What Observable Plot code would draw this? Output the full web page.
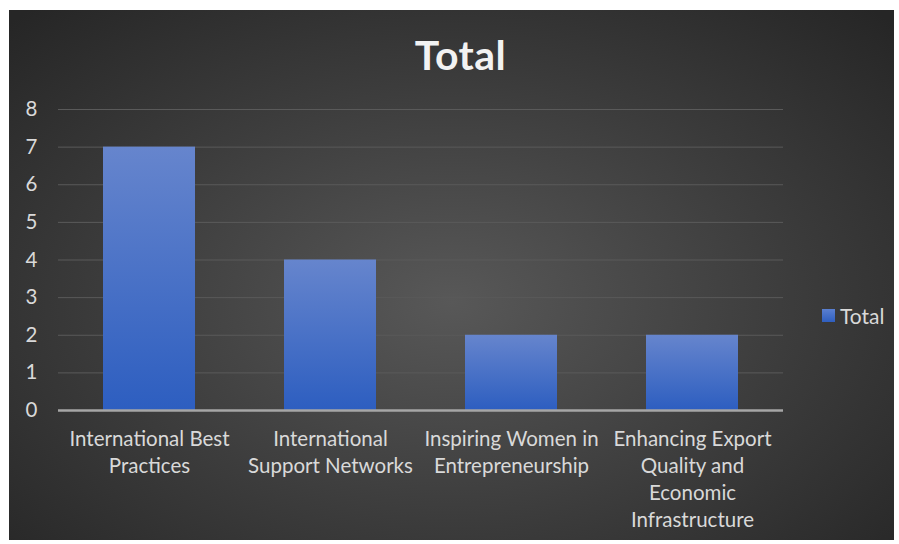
<!DOCTYPE html>
<html>
<head>
<meta charset="utf-8">
<script src="https://cdn.jsdelivr.net/npm/d3@7"></script>
<script src="https://cdn.jsdelivr.net/npm/@observablehq/plot@0.6"></script>
<style>
  html, body { margin: 0; padding: 0; background: #ffffff; }
  #wrap {
    position: absolute; left: 9px; top: 10px; width: 885px; height: 530px;
    background: radial-gradient(ellipse 70% 75% at 50% 55%, #585858 0%, #3c3c3c 55%, #262626 100%);
    overflow: hidden;
    font-family: Lato, "Open Sans", sans-serif;
  }
  #title {
    position: absolute; left: 0; width: 885px; top: 20px; text-align: center;
    color: #f2f2f2; font-weight: bold; font-size: 41px; line-height: 50px;
    padding-left: 18px; box-sizing: border-box; letter-spacing: 0.5px;
  }
  #chart { position: absolute; left: 0; top: 80px; }
  #legend {
    position: absolute; left: 813px; top: 293px; color: #d9d9d9; font-size: 21px;
    display: flex; align-items: center;
  }
  #legend .sw { width: 13px; height: 13px; margin-right: 5px;
    background: linear-gradient(#5a7fd0, #2f5fbf); }
</style>
</head>
<body>
<div id="wrap">
  <div id="title">Total</div>
  <div id="chart"></div>
  <div id="legend"><span class="sw"></span><span>Total</span></div>
</div>
<script>
const categories = [
  "International Best Practices",
  "International Support Networks",
  "Inspiring Women in Entrepreneurship",
  "Enhancing Export Quality and Economic Infrastructure"
];
const tickLabels = [
  "International Best\nPractices",
  "International\nSupport Networks",
  "Inspiring Women in\nEntrepreneurship",
  "Enhancing Export\nQuality and\nEconomic\nInfrastructure"
];
const values = [7, 4, 2, 2];
const yTicks = [0, 1, 2, 3, 4, 5, 6, 7, 8];

const data = categories.map((c, i) => ({category: c, value: values[i]}));
const labelOf = new Map(categories.map((c, i) => [c, tickLabels[i]]));

const defs = () => {
  const g = d3.create("svg:defs");
  const lg = g.append("linearGradient").attr("id", "barGrad")
    .attr("x1", 0).attr("y1", 0).attr("x2", 0).attr("y2", 1);
  lg.append("stop").attr("offset", "0%").attr("stop-color", "#6685cd");
  lg.append("stop").attr("offset", "100%").attr("stop-color", "#2d5ec0");
  return g.node();
};

const chart = Plot.plot({
  width: 885,
  height: 450,
  marginLeft: 49,
  marginRight: 111,
  marginTop: 19,
  marginBottom: 130,
  style: {background: "transparent", fontFamily: "Lato, 'Open Sans', sans-serif", color: "#d9d9d9", overflow: "visible"},
  x: {domain: categories, paddingInner: 0.49, paddingOuter: 0.245, label: null},
  y: {domain: [0, 8], label: null},
  marks: [
    defs,
    Plot.gridY(yTicks, {stroke: "#5a5a5a", strokeOpacity: 1, strokeWidth: 1}),
    Plot.barY(data, {x: "category", y: "value", fill: "url(#barGrad)"}),
    Plot.ruleY([0], {stroke: "#a6a6a6", strokeWidth: 2.5}),
    Plot.axisY({ticks: yTicks, tickSize: 0, tickPadding: 21, fontSize: 20.5, fill: "#d9d9d9", label: null}),
    Plot.axisX({tickSize: 0, tickPadding: 16, fontSize: 20.5, lineHeight: 1.32, fill: "#d9d9d9",
      tickFormat: d => labelOf.get(d), label: null})
  ]
});
document.getElementById("chart").appendChild(chart);
</script>
</body>
</html>
